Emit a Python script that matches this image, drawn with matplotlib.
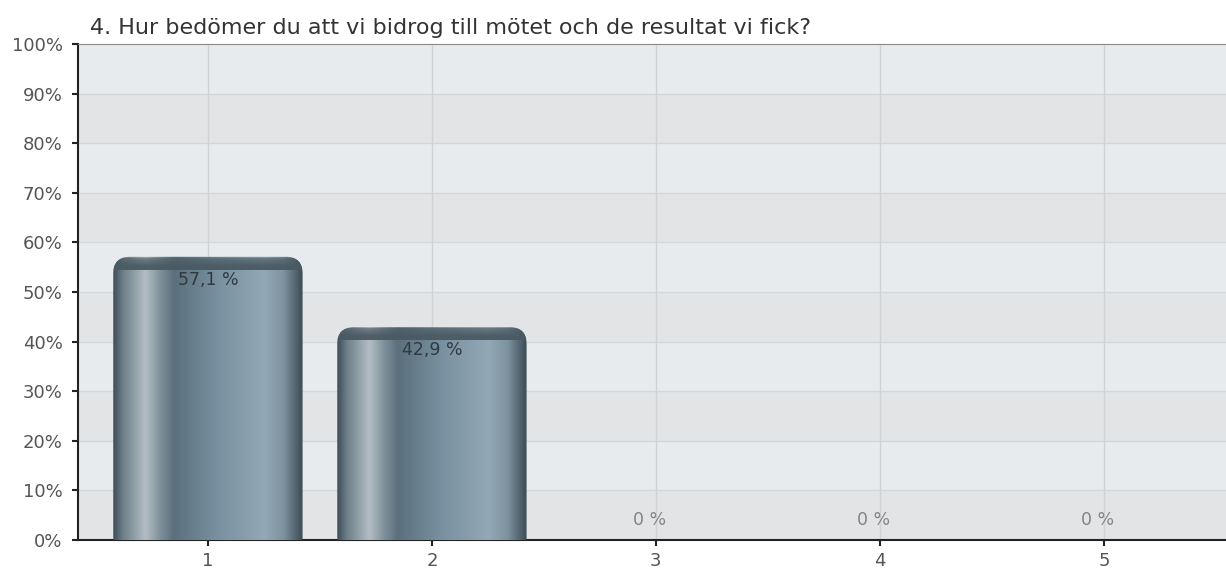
import numpy as np
import matplotlib.pyplot as plt
from matplotlib.patches import FancyBboxPatch
from matplotlib.colors import LinearSegmentedColormap

plt.rcParams['font.family'] = ['DejaVu Sans']

title = "4. Hur bedömer du att vi bidrog till mötet och de resultat vi fick?"
categories = ["1", "2", "3", "4", "5"]
values = [57.1, 42.9, 0, 0, 0]
value_labels = ["57,1 %", "42,9 %", "0 %", "0 %", "0 %"]
yticks = [0, 10, 20, 30, 40, 50, 60, 70, 80, 90, 100]

fig = plt.figure(figsize=(12.26, 5.73), dpi=100)
ax = fig.add_axes([78 / 1226, 33 / 573, 1 - 78 / 1226, 496 / 573])

x = np.arange(1, len(categories) + 1)
ax.set_xlim(0.42, 5.545)
ax.set_ylim(0, 100)

# pixel / data-unit ratio for rounded corners
asp = (224.0 / 1.0) / (496.0 / 100.0)

# alternating background bands
for i, lo in enumerate(yticks[:-1]):
    col = "#e8ebee" if (i % 2 == 1) else "#e3e4e6"
    ax.axhspan(lo, lo + 10, color=col, zorder=0, lw=0)
for yv in yticks[1:-1]:
    ax.axhline(yv, color="#d4d7da", lw=1, zorder=1)
for xv in x:
    ax.axvline(xv, color="#d0d3d6", lw=1, zorder=1)

bars = ax.bar(x, values, width=0.845, color="none", zorder=2)

cmap = LinearSegmentedColormap.from_list("bar", [
    (0.0, "#3e4d56"), (0.05, "#6d7f89"), (0.17, "#b3bec4"), (0.25, "#7d8f99"),
    (0.32, "#5b707c"), (0.55, "#7890a0"), (0.80, "#93a8b5"), (0.90, "#7d939f"),
    (1.0, "#3c4b54")])
grad = np.linspace(0, 1, 256).reshape(1, -1)

for b, v in zip(bars, values):
    if v <= 0:
        continue
    x0, w, h = b.get_x(), b.get_width(), b.get_height()
    patch = FancyBboxPatch((x0, -10), w, h + 10,
                           boxstyle="round,pad=0,rounding_size=0.075",
                           mutation_aspect=asp, transform=ax.transData,
                           facecolor="none", edgecolor="none", zorder=3)
    ax.add_patch(patch)
    im = ax.imshow(grad, cmap=cmap, aspect="auto", extent=(x0, x0 + w, 0, h),
                   zorder=3, interpolation="bicubic")
    im.set_clip_path(patch)
    # dark top cap, fading downwards
    capgrad = np.linspace(0, 1, 64).reshape(-1, 1)
    capcol = np.zeros((64, 1, 4))
    capcol[..., :3] = np.array([0x4a, 0x5a, 0x63]) / 255.0
    capcol[..., 3] = np.clip(1.15 - capgrad[:, 0] * 0.6, 0, 0.95)[:, None]
    capcol[-6:, 0, 3] = np.linspace(0.6, 0, 6)
    cap = ax.imshow(capcol, aspect="auto", extent=(x0, x0 + w, h - 2.6, h),
                    zorder=4, origin="lower", interpolation="bilinear")
    cap.set_clip_path(patch)

for xi, v, lab in zip(x, values, value_labels):
    if v > 0:
        ax.text(xi, v - 4.6, lab, ha="center", va="center", fontsize=12.5,
                color="#2e3a40", zorder=5)
    else:
        ax.text(xi - 0.03, 4, lab, ha="center", va="center", fontsize=12.5,
                color="#858585", zorder=5)

ax.set_xticks(x)
ax.set_xticklabels(categories)
ax.set_yticks(yticks)
ax.set_yticklabels([f"{t}%" for t in yticks])
ax.tick_params(axis="both", labelsize=13, labelcolor="#555555", length=4,
               width=1.5, color="#222222")
ax.tick_params(axis="y", pad=7)
ax.tick_params(axis="x", pad=5)

ax.spines["right"].set_visible(False)
ax.spines["top"].set_color("#8a8a8a")
ax.spines["left"].set_linewidth(1.5)
ax.spines["bottom"].set_linewidth(1.5)
ax.spines["left"].set_color("#222222")
ax.spines["bottom"].set_color("#222222")

fig.text(90 / 1226, 1 - 34 / 573, title, fontsize=16, color="#333333",
         ha="left", va="baseline")

fig.savefig("out.png", dpi=100)
